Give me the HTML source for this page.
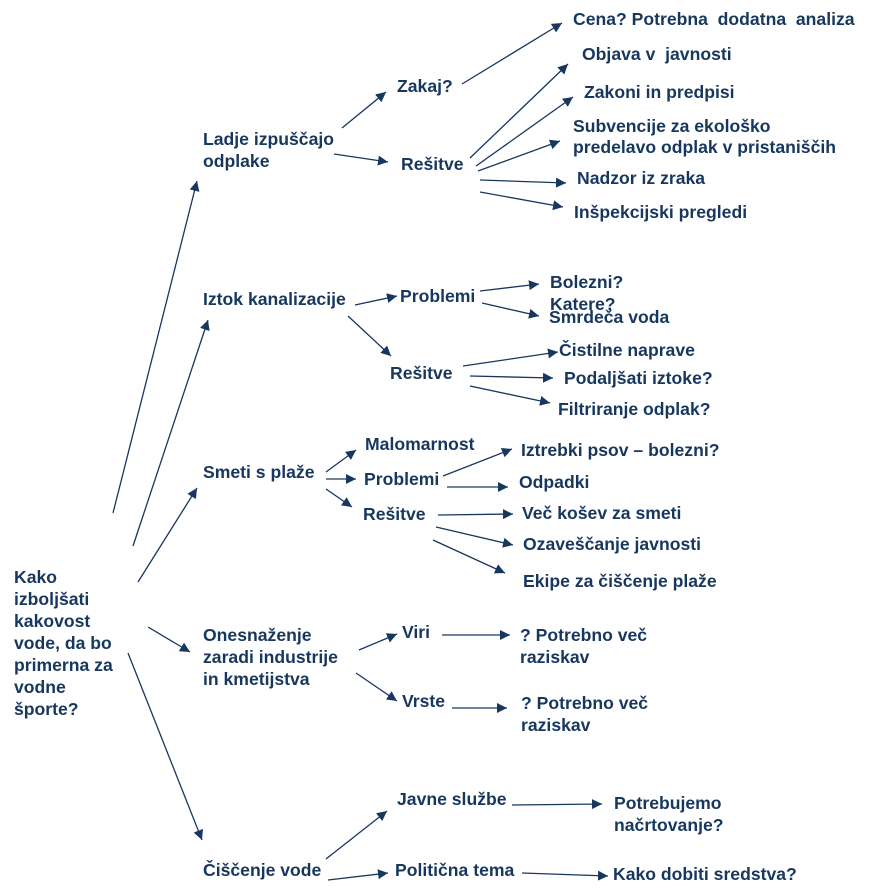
<!DOCTYPE html>
<html><head><meta charset="utf-8"><style>
html,body{margin:0;padding:0;background:#fff;}
svg{display:block;}
text{font-family:"Liberation Sans",Arial,sans-serif;font-weight:bold;font-size:17.6px;fill:#17375e;}
line{stroke:#17375e;stroke-width:1.3;}
</style></head><body>
<svg width="893" height="891" viewBox="0 0 893 891" xmlns="http://www.w3.org/2000/svg">
<defs><marker id="a" viewBox="0 0 10 10" refX="10" refY="5" markerWidth="10" markerHeight="10" markerUnits="userSpaceOnUse" orient="auto"><path d="M0,0 L10,5 L0,10 z" fill="#17375e"/></marker></defs>
<g marker-end="url(#a)">
<line x1="113" y1="513" x2="197" y2="181"/>
<line x1="133" y1="546" x2="208" y2="320"/>
<line x1="138" y1="582" x2="197" y2="488"/>
<line x1="148" y1="627" x2="190" y2="652"/>
<line x1="128" y1="653" x2="202" y2="840"/>
<line x1="342" y1="128" x2="386" y2="92"/>
<line x1="334" y1="154" x2="388" y2="162"/>
<line x1="462" y1="84" x2="562" y2="23"/>
<line x1="470" y1="158" x2="568" y2="64"/>
<line x1="476" y1="166" x2="573" y2="97"/>
<line x1="478" y1="171" x2="560" y2="141"/>
<line x1="480" y1="180" x2="566" y2="183"/>
<line x1="480" y1="192" x2="563" y2="207"/>
<line x1="355" y1="305" x2="397" y2="296"/>
<line x1="348" y1="316" x2="391" y2="356"/>
<line x1="480" y1="291" x2="539" y2="284"/>
<line x1="482" y1="303" x2="539" y2="316"/>
<line x1="463" y1="366" x2="558" y2="352"/>
<line x1="470" y1="376" x2="553" y2="378"/>
<line x1="470" y1="386" x2="550" y2="403"/>
<line x1="326" y1="472" x2="356" y2="450"/>
<line x1="326" y1="479" x2="356" y2="479"/>
<line x1="326" y1="489" x2="352" y2="507"/>
<line x1="443" y1="476" x2="512" y2="449"/>
<line x1="447" y1="487" x2="508" y2="487"/>
<line x1="438" y1="515" x2="513" y2="514"/>
<line x1="436" y1="527" x2="513" y2="545"/>
<line x1="433" y1="540" x2="505" y2="573"/>
<line x1="359" y1="650" x2="397" y2="634"/>
<line x1="356" y1="673" x2="397" y2="701"/>
<line x1="442" y1="635" x2="510" y2="635"/>
<line x1="452" y1="708" x2="507" y2="708"/>
<line x1="326" y1="859" x2="387" y2="811"/>
<line x1="328" y1="880" x2="388" y2="873"/>
<line x1="512" y1="805" x2="602" y2="804"/>
<line x1="522" y1="873" x2="608" y2="876"/>
</g>
<text x="14" y="583">Kako</text>
<text x="14" y="605">izboljšati</text>
<text x="14" y="627">kakovost</text>
<text x="14" y="649">vode, da bo</text>
<text x="14" y="671">primerna za</text>
<text x="14" y="693">vodne</text>
<text x="14" y="715">športe?</text>
<text x="203" y="145">Ladje izpuščajo</text>
<text x="203" y="167">odplake</text>
<text x="397" y="92">Zakaj?</text>
<text x="401" y="170">Rešitve</text>
<text x="573" y="25" xml:space="preserve">Cena? Potrebna  dodatna  analiza</text>
<text x="582" y="60" xml:space="preserve">Objava v  javnosti</text>
<text x="584" y="98">Zakoni in predpisi</text>
<text x="573" y="132">Subvencije za ekološko</text>
<text x="573" y="153">predelavo odplak v pristaniščih</text>
<text x="577" y="184">Nadzor iz zraka</text>
<text x="574" y="218">Inšpekcijski pregledi</text>
<text x="203" y="305">Iztok kanalizacije</text>
<text x="400" y="302">Problemi</text>
<text x="550" y="288">Bolezni?</text>
<text x="550" y="310">Katere?</text>
<text x="549" y="323">Smrdeča voda</text>
<text x="390" y="379">Rešitve</text>
<text x="559" y="356">Čistilne naprave</text>
<text x="564" y="384">Podaljšati iztoke?</text>
<text x="558" y="415">Filtriranje odplak?</text>
<text x="203" y="478">Smeti s plaže</text>
<text x="365" y="450">Malomarnost</text>
<text x="364" y="485">Problemi</text>
<text x="363" y="520">Rešitve</text>
<text x="521" y="456">Iztrebki psov – bolezni?</text>
<text x="519" y="488">Odpadki</text>
<text x="522" y="519">Več košev za smeti</text>
<text x="523" y="550">Ozaveščanje javnosti</text>
<text x="523" y="587">Ekipe za čiščenje plaže</text>
<text x="203" y="641">Onesnaženje</text>
<text x="203" y="663">zaradi industrije</text>
<text x="203" y="685">in kmetijstva</text>
<text x="402" y="638">Viri</text>
<text x="402" y="707">Vrste</text>
<text x="520" y="641">? Potrebno več</text>
<text x="520" y="663">raziskav</text>
<text x="521" y="709">? Potrebno več</text>
<text x="521" y="731">raziskav</text>
<text x="397" y="805">Javne službe</text>
<text x="614" y="809">Potrebujemo</text>
<text x="614" y="831">načrtovanje?</text>
<text x="203" y="876">Čiščenje vode</text>
<text x="395" y="876">Politična tema</text>
<text x="613" y="880">Kako dobiti sredstva?</text>
</svg>
</body></html>
